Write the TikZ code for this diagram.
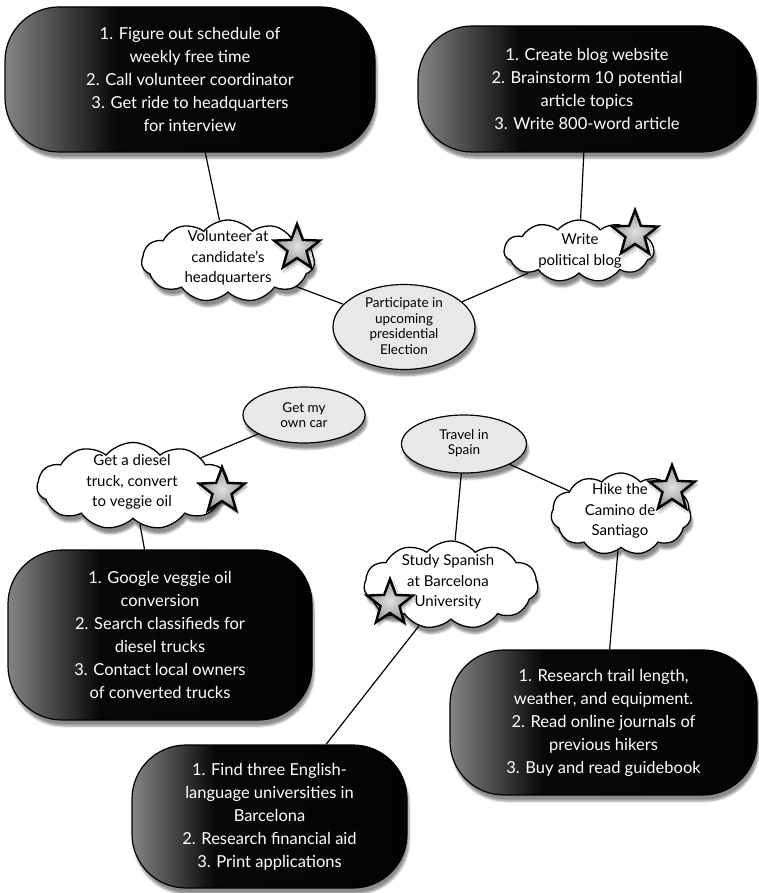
\documentclass[tikz,border=0pt]{standalone}
\usepackage{fontspec}
\setmainfont{Lato}
\usetikzlibrary{shapes.symbols,shapes.geometric,shadows.blur,backgrounds}
\pgfdeclarehorizontalshading{boxshade}{100bp}{color(0bp)=(black!48); color(25bp)=(black!48); color(40bp)=(black!97); color(100bp)=(black)}
\tikzset{
  sh/.style={blur shadow={shadow xshift=2pt, shadow yshift=-6pt, shadow opacity=45, shadow blur steps=6}},
  conn/.style={draw=black, line width=1.2pt},
  blackbox/.style={rectangle, rounded corners=54pt, draw=black, line width=1.2pt,
    shading=boxshade, text=white, align=center, inner sep=0pt,
    font=\fontsize{16.5}{23}\selectfont, sh},
  cloudshape/.style={cloud, cloud puffs=11, cloud puff arc=100, cloud ignores aspect,
    draw=black, fill=white, line width=1.3pt, inner sep=0pt, sh},
  ellshape/.style={ellipse, draw=black, fill=black!9, line width=1.2pt, inner sep=0pt, sh},
  cloudtext/.style={align=center, inner sep=0pt, font=\fontsize{15}{20.5}\selectfont},
  elltext/.style={align=center, inner sep=0pt, font=\fontsize{13.5}{15.5}\selectfont},
  starshape/.style={star, star points=5, star point ratio=2.4, minimum size=48pt,
    inner sep=0pt, draw=black, line width=2.4pt, inner color=black!12, outer color=black!42,
    blur shadow={shadow xshift=2pt, shadow yshift=-3pt, shadow opacity=40, shadow blur steps=4}}
}
\begin{document}
\begin{tikzpicture}[x=1pt,y=-1pt]
\useasboundingbox (0,0) rectangle (758,893);

% black task boxes
\node[blackbox, minimum width=370pt, minimum height=145pt] (b1) at (190,79.5)
  {1. Figure out schedule of\\weekly free time\\2. Call volunteer coordinator\\3. Get ride to headquarters\\for interview};
\node[blackbox, minimum width=338pt, minimum height=126pt] (b2) at (587,89)
  {1. Create blog website\\2. Brainstorm 10 potential\\article topics\\3. Write 800-word article};
\node[blackbox, minimum width=304pt, minimum height=170pt] (b3) at (160,635)
  {1. Google veggie oil\\conversion\\2. Search classifieds for\\diesel trucks\\3. Contact local owners\\of converted trucks};
\node[blackbox, minimum width=275pt, minimum height=143pt] (b4) at (269.5,816.5)
  {1. Find three English-\\language universities in\\Barcelona\\2. Research financial aid\\3. Print applications};
\node[blackbox, minimum width=307pt, minimum height=145pt] (b5) at (603.5,722.5)
  {1. Research trail length,\\weather, and equipment.\\2. Read online journals of\\previous hikers\\3. Buy and read guidebook};

% ellipses
\node[ellshape, minimum width=142pt, minimum height=85pt] (e1) at (404,327) {};
\node[elltext] (e1t) at (404,326) {Participate in\\upcoming\\presidential\\Election};
\node[ellshape, minimum width=122pt, minimum height=56pt] (e2) at (304,415) {};
\node[elltext] (e2t) at (304,415) {Get my\\own car};
\node[ellshape, minimum width=125pt, minimum height=58pt] (e3) at (464,444) {};
\node[elltext] (e3t) at (464,443) {Travel in\\Spain};

% clouds
\node[cloudshape, minimum width=173pt, minimum height=82pt] (c1) at (228,261) {};
\node[cloudtext] (c1t) at (228,258) {Volunteer at\\candidate's\\headquarters};
\node[cloudshape, minimum width=150pt, minimum height=62pt] (c2) at (579,251) {};
\node[cloudtext] (c2t) at (580,251) {Write\\political blog};
\node[cloudshape, minimum width=192pt, minimum height=87pt] (c3) at (133,486) {};
\node[cloudtext] (c3t) at (132,482) {Get a diesel\\truck, convert\\to veggie oil};
\node[cloudshape, minimum width=140pt, minimum height=82pt] (c4) at (621,514) {};
\node[cloudtext] (c4t) at (620,511) {Hike the\\Camino de\\Santiago};
\node[cloudshape, minimum width=174pt, minimum height=88pt] (c5) at (451,585) {};
\node[cloudtext] (c5t) at (448,582) {Study Spanish\\at Barcelona\\University};

% stars
\node[starshape] (s1) at (297,248) {};
\node[starshape] (s2) at (635,234) {};
\node[starshape] (s3) at (222,491) {};
\node[starshape] (s4) at (672,489) {};
\node[starshape] (s5) at (390,603) {};

% connectors
\begin{scope}[on background layer]
\draw[conn] (b1) -- (c1);
\draw[conn] (b2) -- (c2);
\draw[conn] (c1) -- (e1);
\draw[conn] (e1) -- (c2);
\draw[conn] (e2) -- (c3);
\draw[conn] (c3) -- (b3);
\draw[conn] (e3) -- (c5);
\draw[conn] (e3) -- (c4);
\draw[conn] (c4) -- (b5);
\draw[conn] (c5) -- (b4);
\end{scope}
\end{tikzpicture}
\end{document}
